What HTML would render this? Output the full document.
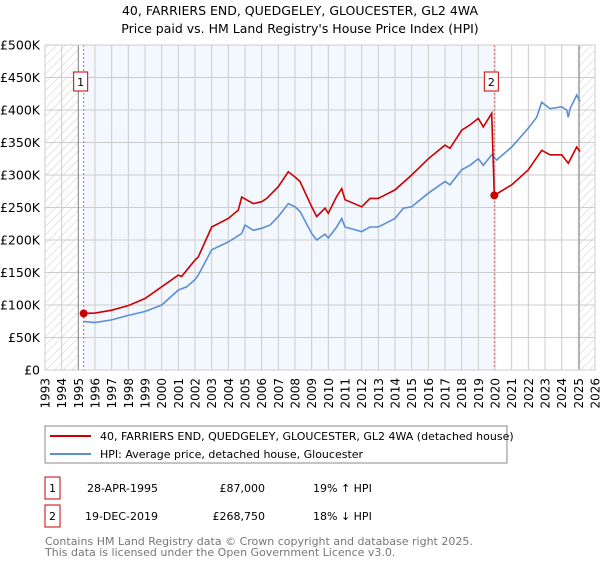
<!DOCTYPE html>
<html><head><meta charset="utf-8"><style>
body{margin:0;background:#fff;font-family:"DejaVu Sans","Liberation Sans",sans-serif;}
</style></head><body>
<svg id="c" width="600" height="560" xmlns="http://www.w3.org/2000/svg" font-family="DejaVu Sans, Liberation Sans, sans-serif">
<defs><pattern id="h" width="6" height="6" patternUnits="userSpaceOnUse" patternTransform="rotate(45)"><line x1="0" y1="0" x2="0" y2="6" stroke="#ccc" stroke-width="1"/></pattern></defs>
<text x="300" y="15" text-anchor="middle" font-size="12.5">40, FARRIERS END, QUEDGELEY, GLOUCESTER, GL2 4WA</text>
<text x="300" y="33" text-anchor="middle" font-size="12.5">Price paid vs. HM Land Registry's House Price Index (HPI)</text>
<g id="plot"></g>
<g>
<rect x="45" y="426" width="462" height="37" fill="#fff" stroke="#888"/>
<line x1="50" y1="436" x2="91" y2="436" stroke="#cc0000" stroke-width="2"/>
<text x="100" y="440" font-size="11">40, FARRIERS END, QUEDGELEY, GLOUCESTER, GL2 4WA (detached house)</text>
<line x1="50" y1="454" x2="91" y2="454" stroke="#5b8fd4" stroke-width="2"/>
<text x="100" y="458" font-size="11">HPI: Average price, detached house, Gloucester</text>
</g>
<g font-size="11">
<rect x="45" y="477" width="15" height="22" fill="#fff" stroke="#cc0000"/>
<text x="52.5" y="492" text-anchor="middle">1</text>
<text x="158" y="492" text-anchor="end">28-APR-1995</text>
<text x="265" y="492" text-anchor="end">£87,000</text>
<text x="313" y="492">19% ↑ HPI</text>
<rect x="45" y="505" width="15" height="22" fill="#fff" stroke="#cc0000"/>
<text x="52.5" y="520" text-anchor="middle">2</text>
<text x="158" y="520" text-anchor="end">19-DEC-2019</text>
<text x="265" y="520" text-anchor="end">£268,750</text>
<text x="313" y="520">18% ↓ HPI</text>
</g>
<text x="45" y="545" font-size="11" fill="#777">Contains HM Land Registry data © Crown copyright and database right 2025.</text>
<text x="45" y="556" font-size="11" fill="#777">This data is licensed under the Open Government Licence v3.0.</text>
</svg>
<script>
const hpiYears=[1995.3,1996,1997,1998,1999,2000,2001,2001.5,2002,2002.2,2003,2004,2004.8,2005,2005.5,2006,2006.5,2007,2007.6,2008,2008.3,2009,2009.3,2009.8,2010,2010.5,2010.8,2011,2012,2012.5,2013,2014,2014.5,2015,2016,2017,2017.3,2018,2018.5,2019,2019.3,2019.8,2020.1,2021,2022,2022.5,2022.8,2023.3,2024,2024.3,2024.4,2024.5,2024.9,2025.1];
const hpiValues=[74.7,73,77,84,90,100,123,128,139,146,185,197,210,223,215,218,223,236,256,251,244,210,200,209,203,220,233,220,213,220,220,233,249,251,272,290,285,308,315,325,315,331,323,343,372,389,412,402,405,400,389,402,423,413];
const redYears=[1995.32,1996,1997,1998,1999,2000,2001,2001.2,2002,2002.2,2003,2004,2004.6,2004.8,2005.5,2006,2006.3,2007,2007.6,2008,2008.3,2009,2009.3,2009.8,2010,2010.5,2010.8,2011,2012,2012.5,2013,2014,2015,2016,2017,2017.3,2018,2018.5,2019,2019.3,2019.8,2019.96,2021,2022,2022.8,2023.3,2024,2024.4,2024.9,2025.1];
const redValues=[87,87.5,92,99,110,128,146,144,169,174,220,233,246,266,256,259,264,282,305,297,290,251,236,249,241,267,279,262,251,264,264,277,300,325,346,341,369,377,387,374,395,268.75,285,308,338,331,331,318,343,336];
const saleYears=[1995.32,2019.96];
const saleValues=[87,268.75];
const saleLabels=["1","2"];
const yTicks=[0,50,100,150,200,250,300,350,400,450,500];
const yTickLabels=["£0","£50K","£100K","£150K","£200K","£250K","£300K","£350K","£400K","£450K","£500K"];
const xTicks=[1993,1994,1995,1996,1997,1998,1999,2000,2001,2002,2003,2004,2005,2006,2007,2008,2009,2010,2011,2012,2013,2014,2015,2016,2017,2018,2019,2020,2021,2022,2023,2024,2025,2026];

const L=45,R=595,T=45,B=370,X0=1993,X1=2026;
const sx=y=>L+(y-X0)/(X1-X0)*(R-L);
const sy=v=>B-v/500*(B-T);
const NS="http://www.w3.org/2000/svg";
const g=document.getElementById('plot');
function mk(t,a,p){const e=document.createElementNS(NS,t);for(const k in a)e.setAttribute(k,a[k]);(p||g).appendChild(e);return e;}
let e;
e=mk('rect',{x:L,y:T,width:R-L,height:B-T,fill:'#fff'});


e=mk('rect',{x:sx(saleYears[0]),y:T,width:sx(saleYears[1])-sx(saleYears[0]),height:B-T,fill:'#f3f7fe'});


e=mk('rect',{x:L,y:T,width:sx(1995)-L,height:B-T,fill:'url(#h)'});


e=mk('rect',{x:sx(2025.05),y:T,width:R-sx(2025.05),height:B-T,fill:'url(#h)'});


xTicks.forEach(y=>{
 e=mk('line',{x1:sx(y),x2:sx(y),y1:T,y2:B,stroke:'#ccc','stroke-width':1});
 
 
 e=mk('text',{x:0,y:0,transform:`translate(${sx(y)+4.5},${B+8}) rotate(-90)`,'text-anchor':'end','font-size':12});
 e.textContent=y;
 
 
});
yTicks.forEach((v,i)=>{
 e=mk('line',{x1:L,x2:R,y1:sy(v),y2:sy(v),stroke:'#ccc','stroke-width':1});
 
 
 e=mk('text',{x:L-5,y:sy(v)+4.5,'text-anchor':'end','font-size':12.5});
 e.textContent=yTickLabels[i];
 
 
});
e=mk('line',{x1:sx(1995),x2:sx(1995),y1:T,y2:B,stroke:'#888','stroke-width':1});


e=mk('line',{x1:sx(2025.05),x2:sx(2025.05),y1:T,y2:B,stroke:'#888','stroke-width':1});


saleYears.forEach((y,i)=>{
 e=mk('line',{x1:sx(y),x2:sx(y),y1:T,y2:B,stroke:'#e06666','stroke-width':1,'stroke-dasharray':'2,2'});
 
 
});
const pts=(xs,vs)=>xs.map((y,i)=>sx(y).toFixed(1)+','+sy(vs[i]).toFixed(1)).join(' ');
e=mk('polyline',{points:pts(hpiYears,hpiValues),fill:'none',stroke:'#5b8fd4','stroke-width':1.6});


e=mk('polyline',{points:pts(redYears,redValues),fill:'none',stroke:'#cc0000','stroke-width':1.6});


saleYears.forEach((y,i)=>{
 e=mk('circle',{cx:sx(y),cy:sy(saleValues[i]),r:4,fill:'#cc0000'});
 
 
 const bx=sx(y)-3;
 e=mk('rect',{x:bx-7,y:72,width:14,height:19,fill:'#fff',stroke:'#cc0000'});
 
 
 e=mk('text',{x:bx,y:86,'text-anchor':'middle','font-size':11});
 e.textContent=saleLabels[i];
 
 
});
e=mk('rect',{x:L,y:T,width:R-L,height:B-T,fill:'none',stroke:'#ccc'});


</script>
</body></html>
